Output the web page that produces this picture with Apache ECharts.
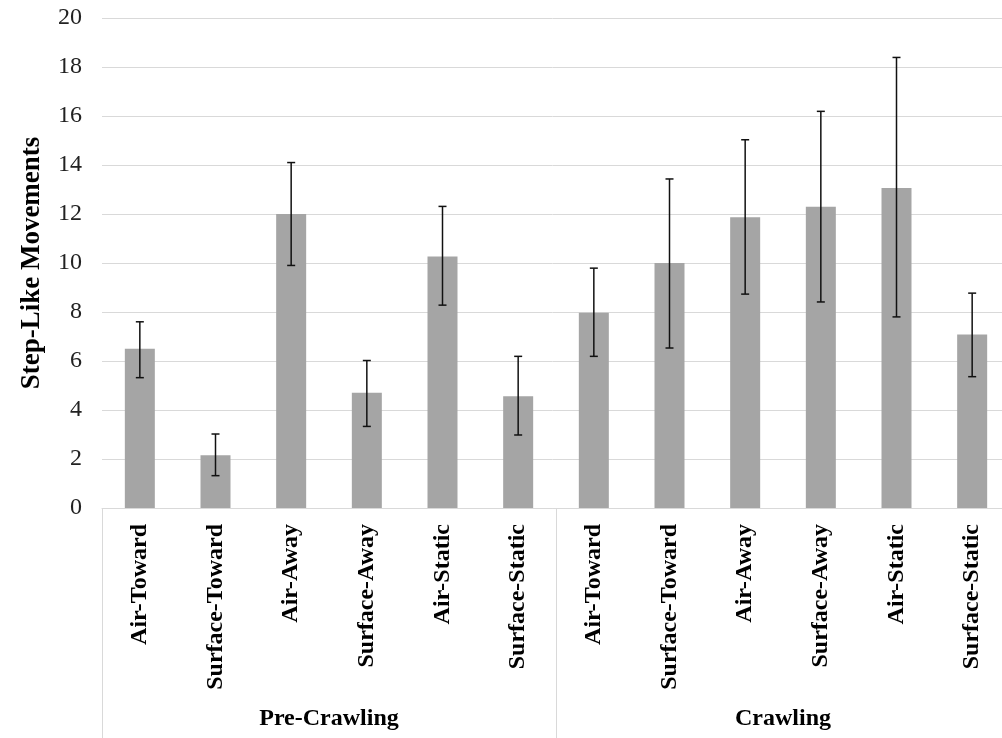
<!DOCTYPE html>
<html>
<head>
<meta charset="utf-8">
<script src="https://cdn.jsdelivr.net/npm/echarts@6/dist/echarts.min.js"></script>
<style>
  html, body { margin: 0; padding: 0; background: #fff; }
  #main { width: 1002px; height: 738px; }
</style>
</head>
<body>
<div id="main"></div>
<script>
// categories and groups
var categories = ['Air-Toward', 'Surface-Toward', 'Air-Away', 'Surface-Away', 'Air-Static', 'Surface-Static',
  'Air-Toward', 'Surface-Toward', 'Air-Away', 'Surface-Away', 'Air-Static', 'Surface-Static'];
var groups = ['Pre-Crawling', 'Crawling'];
// mean values
var means = [6.5, 2.15, 12.0, 4.7, 10.27, 4.56, 7.97, 10.0, 11.87, 12.3, 13.06, 7.08];
// error bar limits
var lows = [5.32, 1.32, 9.9, 3.33, 8.28, 2.98, 6.19, 6.53, 8.73, 8.41, 7.8, 5.36];
var highs = [7.6, 3.02, 14.1, 6.02, 12.31, 6.19, 9.79, 13.43, 15.03, 16.19, 18.39, 8.77];
var yTicks = { min: 0, max: 20, interval: 2 };

var serif = "'Liberation Serif', 'Times New Roman', serif";

var errData = [];
for (var i = 0; i < categories.length; i++) {
  errData.push([i, lows[i], highs[i]]);
}

var myChart = echarts.init(document.getElementById('main'));

var option = {
  animation: false,
  grid: { left: 102, width: 908, top: 18, bottom: 230, outerBoundsMode: 'none' },
  xAxis: [{
    type: 'category',
    data: categories,
    axisLine: { lineStyle: { color: '#d9d9d9', width: 1 } },
    axisTick: { show: false },
    axisLabel: {
      interval: 0,
      rotate: 90,
      margin: 16,
      color: '#000',
      fontFamily: serif,
      fontWeight: 'bold',
      fontSize: 24
    }
  }, {
    type: 'category',
    data: groups,
    position: 'bottom',
    axisLine: { show: false },
    axisTick: { show: true, length: 230, lineStyle: { color: '#d9d9d9' } },
    axisLabel: {
      margin: 199,
      color: '#000',
      fontFamily: serif,
      fontWeight: 'bold',
      fontSize: 24
    }
  }],
  yAxis: {
    type: 'value',
    min: yTicks.min,
    max: yTicks.max,
    interval: yTicks.interval,
    name: 'Step-Like Movements',
    nameLocation: 'middle',
    nameGap: 56,
    nameTextStyle: {
      color: '#000',
      fontFamily: serif,
      fontWeight: 'bold',
      fontSize: 27
    },
    axisLine: { show: false },
    axisTick: { show: false },
    axisLabel: {
      margin: 20,
      color: '#222',
      fontFamily: serif,
      fontSize: 24
    },
    splitLine: { lineStyle: { color: '#d9d9d9', width: 1 } }
  },
  series: [{
    type: 'bar',
    xAxisIndex: 0,
    data: means,
    barWidth: 30,
    itemStyle: { color: '#a5a5a5' }
  }, {
    type: 'custom',
    xAxisIndex: 0,
    data: errData,
    encode: { x: 0, y: [1, 2] },
    renderItem: function (params, api) {
      var lo = api.coord([api.value(0), api.value(1)]);
      var hi = api.coord([api.value(0), api.value(2)]);
      var hw = 4;
      var style = { stroke: '#111', lineWidth: 1.5 };
      return {
        type: 'group',
        children: [
          { type: 'line', shape: { x1: hi[0], y1: hi[1], x2: lo[0], y2: lo[1] }, style: style },
          { type: 'line', shape: { x1: hi[0] - hw, y1: hi[1], x2: hi[0] + hw, y2: hi[1] }, style: style },
          { type: 'line', shape: { x1: lo[0] - hw, y1: lo[1], x2: lo[0] + hw, y2: lo[1] }, style: style }
        ]
      };
    },
    z: 10
  }]
};

myChart.setOption(option);
</script>
</body>
</html>
